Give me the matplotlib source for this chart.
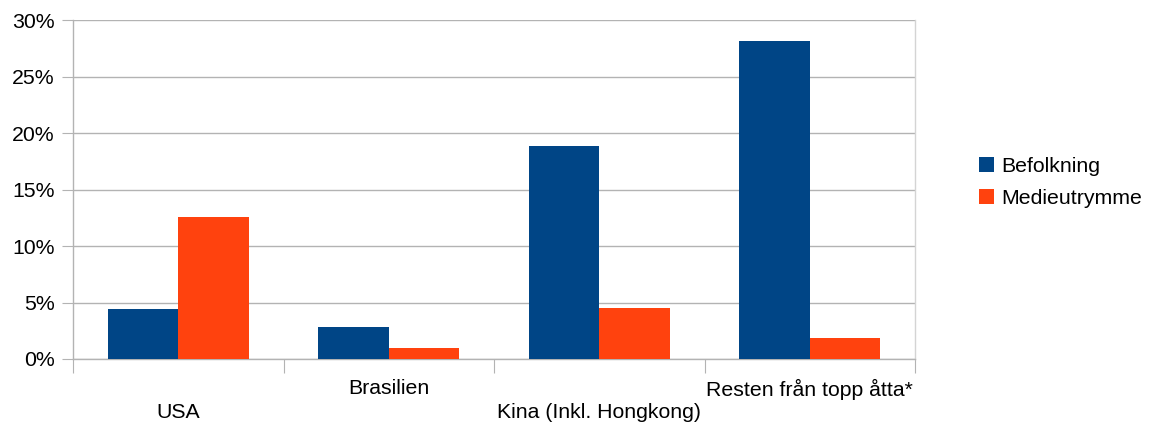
import matplotlib
matplotlib.use("Agg")
import matplotlib.pyplot as plt
import numpy as np
from matplotlib.ticker import FuncFormatter
import matplotlib.transforms as mtransforms

categories = ["USA", "Brasilien", "Kina (Inkl. Hongkong)", "Resten från topp åtta*"]
befolkning = [4.4, 2.8, 18.85, 28.1]
medieutrymme = [12.6, 1.0, 4.5, 1.9]
series_names = ["Befolkning", "Medieutrymme"]
colors = ["#004586", "#ff420e"]
yticks = [0, 5, 10, 15, 20, 25, 30]

plt.rcParams['font.family'] = ['Liberation Sans', 'DejaVu Sans']
FS = 15.3

fig = plt.figure(figsize=(11.52, 4.28), dpi=100)
ax = fig.add_axes([73/1152, 69/428, (915-73)/1152, (359-20)/428])

x = np.arange(len(categories))
w = 0.335
ax.bar(x - w/2, befolkning, width=w, color=colors[0], label=series_names[0], zorder=3)
ax.bar(x + w/2, medieutrymme, width=w, color=colors[1], label=series_names[1], zorder=3)

ax.set_xlim(-0.5, len(categories) - 0.5)
ax.set_ylim(0, 30)
ax.set_yticks(yticks)
ax.yaxis.set_major_formatter(FuncFormatter(lambda v, p: f"{int(v)}%"))
ax.grid(axis='y', color='#b3b3b3', linewidth=1, zorder=0)
ax.set_axisbelow(True)

ax.spines['top'].set_visible(False)
ax.spines['right'].set_color('#d4d4d4')
ax.spines['left'].set_color('#b3b3b3')
ax.spines['bottom'].set_color('#b3b3b3')
for s in ['left', 'bottom', 'right']:
    ax.spines[s].set_linewidth(1)

ax.tick_params(axis='y', length=8, color='#b3b3b3', labelsize=FS, pad=5, labelcolor='black')
ax.set_xticks(np.arange(-0.5, len(categories), 1.0))
ax.set_xticklabels([])
ax.tick_params(axis='x', length=10, color='#b3b3b3')

trans = mtransforms.blended_transform_factory(ax.transData, ax.transAxes)
for i, c in enumerate(categories):
    off = -30 if i % 2 == 1 else -54
    ax.annotate(c, xy=(x[i], 0), xycoords=trans, xytext=(0, off),
                textcoords='offset pixels', ha='center', va='center', fontsize=FS)

leg = ax.legend(loc='center left', bbox_to_anchor=(979/1152, (428-182.5)/428),
                bbox_transform=fig.transFigure, frameon=False, fontsize=FS,
                handlelength=0.7, handleheight=0.7, handletextpad=0.35,
                labelspacing=0.6, borderpad=0, borderaxespad=0)

fig.savefig("out.png", dpi=100)
